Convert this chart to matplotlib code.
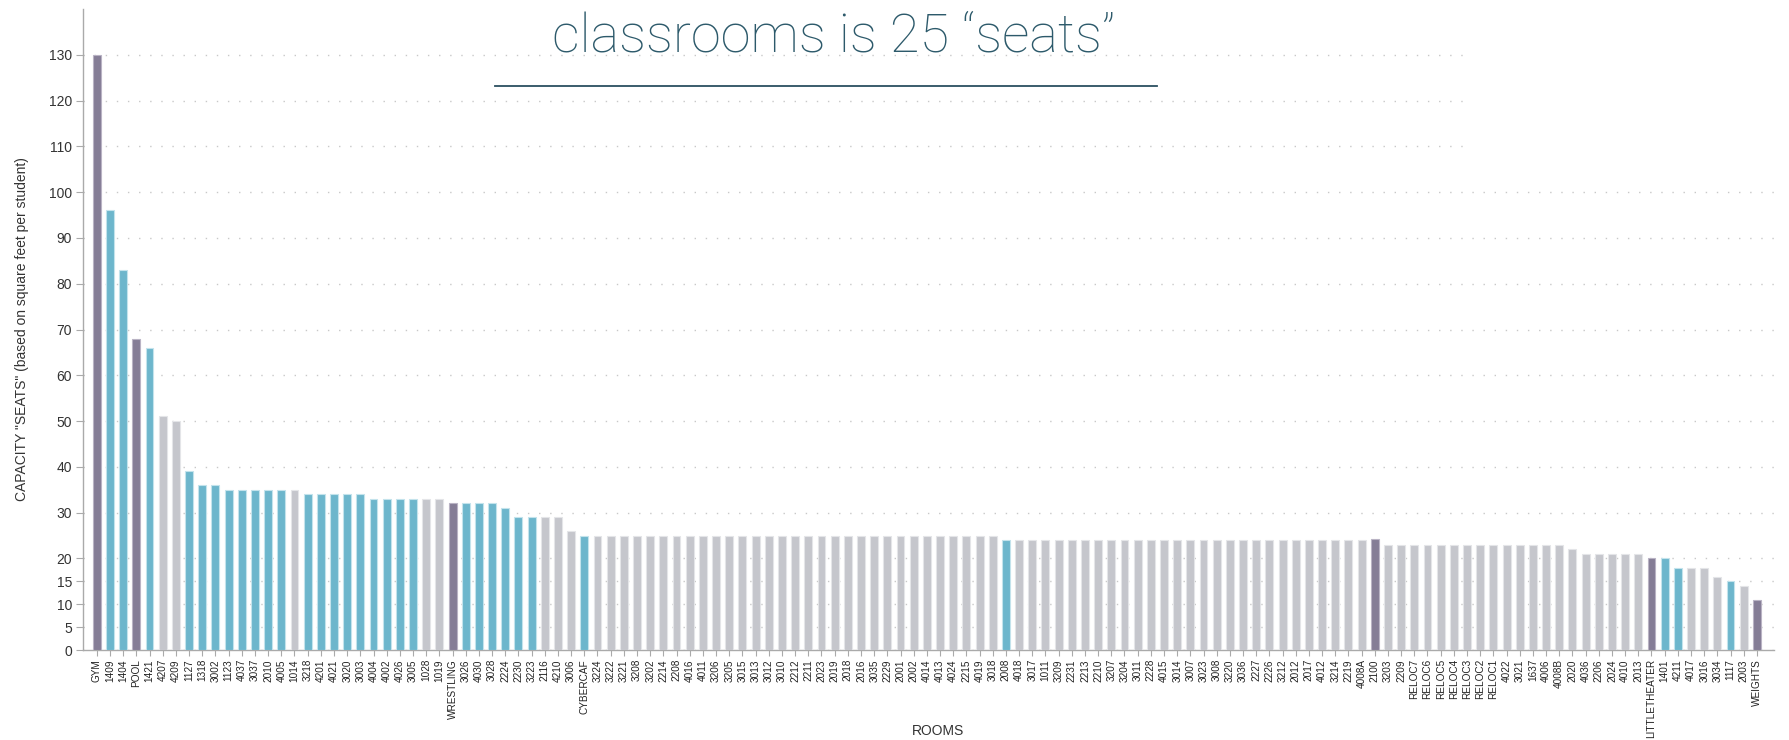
import matplotlib
matplotlib.use("Agg")
import matplotlib.pyplot as plt
from matplotlib.patches import Rectangle
from matplotlib.lines import Line2D

rooms = ["GYM", "1409", "1404", "POOL", "1421", "4207", "4209", "1127", "1318", "3002",
         "1123", "4037", "3037", "2010", "4005", "1014", "3218", "4201", "4021", "3020",
         "3003", "4004", "4002", "4026", "3005", "1028", "1019", "WRESTLING", "3026", "4030",
         "3028", "2224", "2230", "3223", "2116", "4210", "3006", "CYBERCAF", "3224", "3222",
         "3221", "3208", "3202", "2214", "2208", "4016", "4011", "3206", "3205", "3015",
         "3013", "3012", "3010", "2212", "2211", "2023", "2019", "2018", "2016", "3035",
         "2229", "2001", "2002", "4014", "4013", "4024", "2215", "4019", "3018", "2008",
         "4018", "3017", "1011", "3209", "2231", "2213", "2210", "3207", "3204", "3011",
         "2228", "4015", "3014", "3007", "3023", "3008", "3220", "3036", "2227", "2226",
         "3212", "2012", "2017", "4012", "3214", "2219", "4008A", "2100", "3203", "2209",
         "RELOC7", "RELOC6", "RELOC5", "RELOC4", "RELOC3", "RELOC2", "RELOC1", "4022", "3021", "1637",
         "4006", "4008B", "2020", "4036", "2206", "2024", "4010", "2013", "LITTLETHEATER", "1401",
         "4211", "4017", "3016", "3034", "1117", "2003", "WEIGHTS"]

seats = [130, 96, 83, 68, 66, 51, 50, 39, 36, 36,
         35, 35, 35, 35, 35, 35, 34, 34, 34, 34,
         34, 33, 33, 33, 33, 33, 33, 32, 32, 32,
         32, 31, 29, 29, 29, 29, 26, 25, 25, 25,
         25, 25, 25, 25, 25, 25, 25, 25, 25, 25,
         25, 25, 25, 25, 25, 25, 25, 25, 25, 25,
         25, 25, 25, 25, 25, 25, 25, 25, 25, 24,
         24, 24, 24, 24, 24, 24, 24, 24, 24, 24,
         24, 24, 24, 24, 24, 24, 24, 24, 24, 24,
         24, 24, 24, 24, 24, 24, 24, 24.2, 23, 23,
         23, 23, 23, 23, 23, 23, 23, 23, 23, 23,
         23, 23, 22, 21, 21, 21, 21, 21, 20, 20,
         18, 18, 18, 16, 15, 14, 11]

# room type: S = special space, C = highlighted classroom, O = other
room_type = list("SCCSCOOCCC"
                 "CCCCCOCCCC"
                 "CCCCCOOSCC"
                 "CCCCOOOCOO"
                 "OOOOOOOOOO"
                 "OOOOOOOOOO"
                 "OOOOOOOOOC"
                 "OOOOOOOOOO"
                 "OOOOOOOOOO"
                 "OOOOOOOSOO"
                 "OOOOOOOOOO"
                 "OOOOOOOOSC"
                 "COOOCOS")

yticks = [0, 5, 10, 15, 20, 30, 40, 50, 60, 70, 80, 90, 100, 110, 120, 130]

type_colors = {"S": "#857d96", "C": "#6db6cc", "O": "#c5c6cc"}
edge_colors = {"S": "#b9b3c4", "C": "#c3e3ec", "O": "#e4e5e8"}

W, H = 1789, 740
fig = plt.figure(figsize=(W / 100, H / 100), dpi=100)
ax = fig.add_axes([83 / W, 1 - 650 / H, (1774 - 83) / W, (650 - 9) / H])

x = list(range(len(rooms)))
ax.bar(x, seats, width=0.6,
       color=[type_colors[t] for t in room_type],
       edgecolor=[edge_colors[t] for t in room_type], linewidth=0.8, zorder=3)

ax.set_xlim(-1.05, len(rooms) + 0.3)
ax.set_ylim(0, 140)
ax.set_yticks(yticks)
ax.set_yticklabels([str(v) for v in yticks], fontsize=10, color="#333333",
                   family="Liberation Sans")
ax.set_xticks(x)
ax.set_xticklabels(rooms, rotation=90, fontsize=7.2, color="#222222",
                   family="Liberation Sans")

ax.yaxis.grid(True, color="#c8c8c8", linestyle=(0, (1, 7)), linewidth=1.0, zorder=0)
ax.set_axisbelow(True)

for s in ["top", "right"]:
    ax.spines[s].set_visible(False)
for s in ["left", "bottom"]:
    ax.spines[s].set_color("#aaaaaa")
    ax.spines[s].set_linewidth(1.0)

ax.tick_params(axis="y", length=5, color="#aaaaaa", pad=3)
ax.tick_params(axis="x", direction="inout", length=9, color="#aaaaaa", pad=2)

ax.set_ylabel('CAPACITY "SEATS" (based on square feet per student)', fontsize=10,
              color="#333333", family="Liberation Sans", labelpad=14)
fig.text(938 / W, 1 - 731 / H, "ROOMS", ha="center", va="center", fontsize=10,
         color="#333333", family="Liberation Sans")

# white overlay box at top-right (from the slide)
fig.patches.append(Rectangle((1466 / W, 1 - 171 / H), 1 - 1466 / W, 171 / H,
                             transform=fig.transFigure, facecolor="white",
                             edgecolor="none", zorder=5))

fig.text(834 / W, 1 - 52 / H, "classrooms is 25 \u201cseats\u201d", ha="center",
         va="baseline", fontsize=39, color="#2d5a6b", family="Roboto",
         fontweight=100, zorder=6)
fig.lines.append(Line2D([495 / W, 1157 / W], [1 - 86 / H, 1 - 86 / H],
                        transform=fig.transFigure, color="#2b4f60", linewidth=1.3,
                        zorder=6))

fig.savefig("out.png", dpi=100)
